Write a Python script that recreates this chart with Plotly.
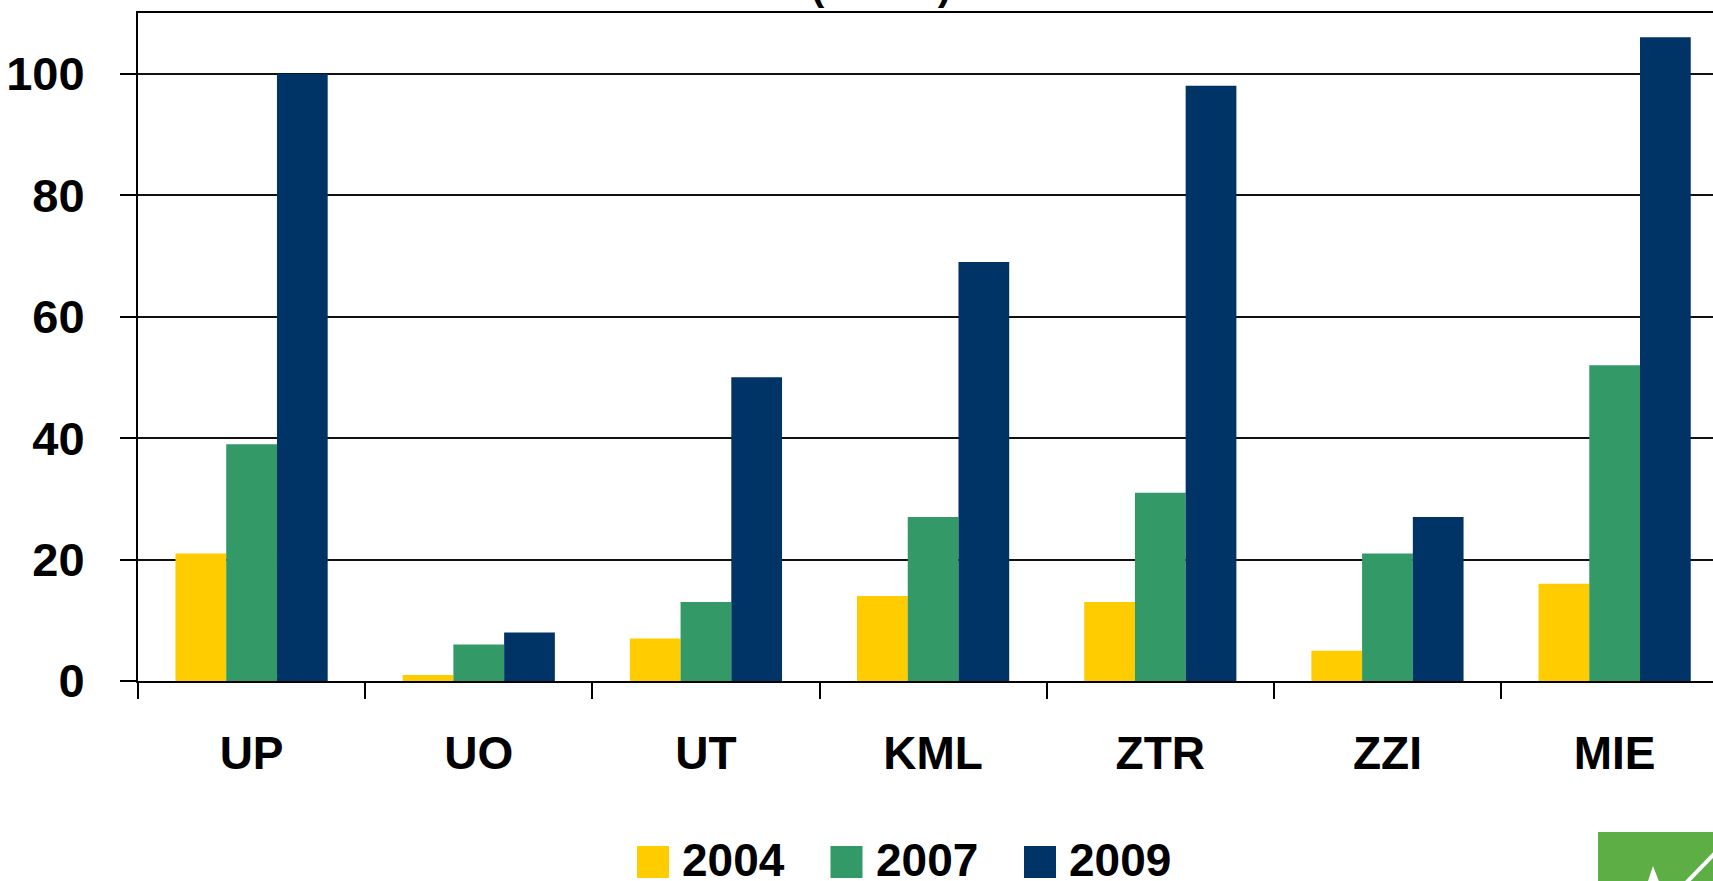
import plotly.graph_objects as go

categories = ["UP", "UO", "UT", "KML", "ZTR", "ZZI", "MIE"]
series_names = ["2004", "2007", "2009"]
values_2004 = [21, 1, 7, 14, 13, 5, 16]
values_2007 = [39, 6, 13, 27, 31, 21, 52]
values_2009 = [100, 8, 50, 69, 98, 27, 106]
colors = ["#FFCC00", "#339966", "#003366"]
y_ticks = [0, 20, 40, 60, 80, 100]

W, H = 1713, 881
L, T, B = 138, 13, 200
PW, PH = W - L, H - T - B

def px_x(px):
    return (px - L) / PW

def px_y(py):
    return (H - B - py) / PH

FONT = "Liberation Sans, Arial, sans-serif"

fig = go.Figure()
for name, vals, col in zip(series_names, [values_2004, values_2007, values_2009], colors):
    fig.add_trace(go.Bar(x=categories, y=vals, name=name, marker=dict(color=col, line=dict(width=0)),
                         showlegend=False))

fig.update_layout(
    width=W, height=H,
    margin=dict(l=L, r=0, t=T, b=B, pad=0),
    paper_bgcolor="white", plot_bgcolor="white",
    barmode="group", bargap=0.33, bargroupgap=0,
    font=dict(family=FONT, color="black"),
    xaxis=dict(
        range=[-0.5, 6.433], showline=True, linecolor="black", linewidth=2, mirror=True,
        ticks="outside", tickson="boundaries", ticklen=16, tickwidth=2, tickcolor="black",
        tickfont=dict(family=FONT, size=46, color="black", weight="bold"),
        ticklabelstandoff=31, showgrid=False,
    ),
    yaxis=dict(
        range=[0, 110], tickvals=y_ticks, showline=True, linecolor="black", linewidth=2,
        ticks="outside", ticklen=16, tickwidth=2, tickcolor="black",
        tickfont=dict(family=FONT, size=47, color="black", weight="bold"),
        ticklabelstandoff=26, showgrid=True, gridcolor="#111111", gridwidth=2, zeroline=False,
    ),
)

shapes = []
annotations = []
# custom legend
lx0, step, sq = 637, 193.5, 32
sq_top = 846
for i, (name, col) in enumerate(zip(series_names, colors)):
    x0 = lx0 + i * step
    shapes.append(dict(type="rect", xref="paper", yref="paper",
                       x0=px_x(x0), x1=px_x(x0 + sq), y0=px_y(sq_top + sq), y1=px_y(sq_top),
                       fillcolor=col, line=dict(width=0)))
    annotations.append(dict(xref="paper", yref="paper", x=px_x(x0 + sq + 11), y=px_y(sq_top - 14),
                            xanchor="left", yanchor="top", showarrow=False, text=name,
                            font=dict(family=FONT, size=46, color="black", weight="bold")))

# partially visible title
annotations.append(dict(xref="paper", yref="paper", x=px_x(881), y=px_y(10), xanchor="center",
                        yanchor="bottom", showarrow=False, text="(mln zł)",
                        font=dict(family=FONT, size=40, color="black", weight="bold")))

# corner logo fragment
shapes.append(dict(type="rect", xref="paper", yref="paper", x0=px_x(1598), x1=px_x(1720),
                   y0=px_y(890), y1=px_y(832), fillcolor="#5DAE45", line=dict(width=0), layer="above"))
shapes.append(dict(type="line", xref="paper", yref="paper", x0=px_x(1716), y0=px_y(852),
                   x1=px_x(1685), y1=px_y(884), line=dict(color="white", width=4), layer="above"))
shapes.append(dict(type="path", xref="paper", yref="paper",
                   path=f"M{px_x(1647)},{px_y(884)} L{px_x(1653)},{px_y(866)} L{px_x(1660)},{px_y(884)} Z",
                   fillcolor="white", line=dict(width=0), layer="above"))

fig.update_layout(shapes=shapes, annotations=annotations)
fig.write_html(
    "out.html",
    config={"displayModeBar": False},
    post_script="document.body.style.margin='0';document.body.style.overflow='hidden';",
)
